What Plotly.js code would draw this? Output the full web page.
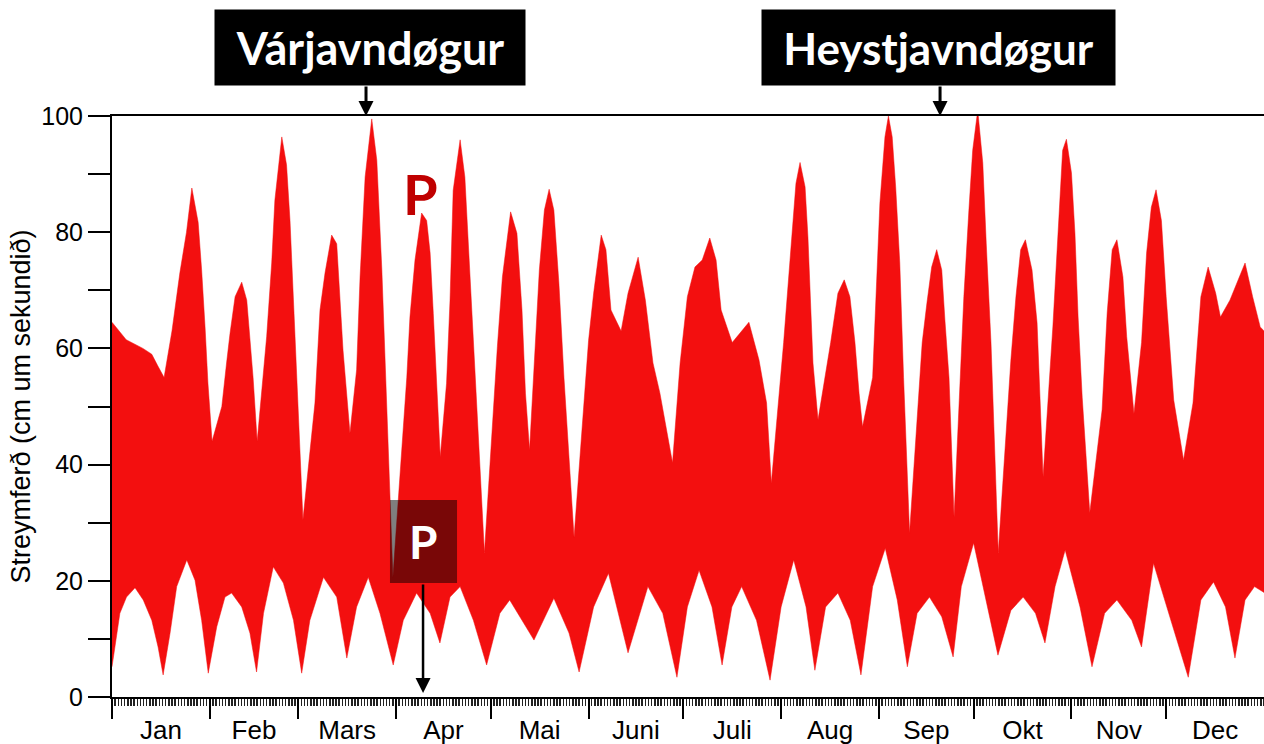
<!DOCTYPE html>
<html>
<head>
<meta charset="utf-8">
<script src="https://cdn.plot.ly/plotly-3.0.1.min.js"></script>
<style>html,body{margin:0;padding:0;background:#fff;}#chart{width:1264px;height:744px;}</style>
</head>
<body>
<div id="chart"></div>
<script>
// Upper envelope of current speed (day of year, cm/s)
const upperDay = [0,4.5,9.8,12.6,14.5,16.5,19,21.5,23.6,25.3,27.3,28.4,29.5,30.4,31.7,
  34.8,36.3,37.4,39,41.1,42.7,43.7,44.7,46,
  47.9,49,50.6,51.6,53.8,55.3,56.4,57.5,58.5,60.5,
  64.3,65.9,67.5,69.6,71.2,72.2,73.2,75.4,
  77.5,78.6,80.2,82.3,83.9,85.5,86.5,89,
  93.4,94.4,96,98.1,99.7,100.8,101.8,104,
  106,107.1,108.1,110.3,111.8,112.9,114.5,118,
  122.1,123.7,126.3,128.3,129.9,131,132.3,
  134.2,135.4,137,138.5,140,141.6,143.2,146.4,
  151,152.6,155,156.5,158.1,161.3,163.5,166.7,169,171.4,173.6,177.6,
  180,182.3,184.7,187,189.4,191.4,193,196.5,201.8,205,207.4,208.9,
  212.8,215.2,216.7,218,219.6,220.5,222.1,223.7,
  227.7,230,232,233.8,235.4,236.7,237.8,
  241,243.3,244.9,246,247.2,248.3,249.6,250.8,252.7,
  256.7,258.2,259.7,261.3,262.9,263.9,265.2,266.8,
  269.9,271.5,272.7,274.3,275.9,277,278.5,280.8,
  284.8,286.4,287.9,289.4,291.5,293.1,295,
  298.1,299.6,301.2,302.4,304,305.1,306.1,307.4,309.8,
  313.7,315.3,316.9,318.4,320.3,321.5,323.8,
  326.2,327.8,329.3,330.8,332.5,334,336.4,339.5,
  342.5,345,347.3,349.7,351.2,354.2,359,361.4,363.8,365];
const upperVal = [64.5,61.5,60,59,57,55,63,73,80,87.6,81.7,73.5,63.5,54,44,
  50,57.5,62.6,68.9,71.4,68.3,62,55,44,
  55,62,74.7,85.5,96.4,91.6,82,68.3,53.4,30.5,
  50.6,66.6,73,79.5,78,69.5,59.7,45.4,
  56.3,72.3,89.5,99.5,92.4,73.5,57.5,20.6,
  55,65.4,75.2,83.3,82,76.4,66,41.3,
  54,68.3,87.2,95.9,89.5,78,61,24.8,
  60.3,72.3,83.5,79.8,66.6,52.3,42.5,
  61,73.5,83.8,87.4,83.8,71.2,55,27.5,
  61.4,69.5,79.5,77,66.6,63,69.5,75.7,68.3,57.5,52.3,40.3,
  57.5,68.9,74,75.2,79,75.2,66.6,61,64.5,58,50.6,36.8,
  61,78,88.4,92,87.8,79.2,57.5,47.7,
  61,69.5,71.8,68.9,61,52.3,46.5,
  55,85,96.4,100,96.4,87.8,74.7,55,28.2,
  61,67.8,74,77,73.5,64.9,55,31,
  68.9,83.8,94.1,101,91.9,78,61,24.8,
  58,68.9,77,78.7,73.5,64.4,37.9,
  63.7,79.2,94.1,96,90.2,79.8,65.4,51.6,31.7,
  49.4,66,77,78.7,72.3,62,48.8,
  61,76.4,84.3,87.3,82,68.9,51.1,40.8,
  50.6,68.9,74,69.5,65.4,68.3,74.7,68.9,63.7,63];

// Lower envelope of current speed (day of year, cm/s)
const lowerDay = [0,2.5,4.6,7.3,9.9,12.6,14.6,16.2,18.4,20.5,23.7,26.3,28.4,30.5,
  33.2,35.8,37.9,41.1,43.7,45.8,48,51.1,54.3,57.5,60.1,
  62.7,67,71.2,74.4,77.5,81.2,84.9,89.1,92.3,96.5,100.8,103.9,
  107.1,110.3,114.5,118.7,122.9,126,133.7,140,144.8,148,
  152.6,157.3,163.5,169.8,174.5,179,182.3,186,190.1,193.3,
  196.4,199.5,204.2,208.5,212,216,219.9,222.7,226.1,230,233.9,237.3,
  241,245,248.8,252,255.1,259,262.9,266.5,269.1,273,277,280.7,
  284.8,288.7,292.6,295.6,298.8,302,306.7,310.5,314.5,318.4,323.1,326.2,
  330,335.5,341,345,349,352.8,355.8,359,362,365];
const lowerVal = [5.2,14.4,17.2,18.8,16.7,13.2,8.6,3.8,11,19,23.6,20.1,13.2,4.1,
  12.1,17.2,17.9,15.5,11,4.3,14.4,22.4,19.6,13.2,4.1,
  13.2,20.6,17.2,6.7,15.5,20.6,14.4,5.5,13.2,17.9,14.4,9.3,
  17.2,19,13.2,5.5,14.4,16.7,9.8,17,11,4.3,
  15.5,21.3,7.6,19,14.4,3.4,15.5,21.8,15.5,5.5,
  15.5,19,13.2,2.9,15.5,23.6,15.5,4.6,15.5,17.9,13.2,3.8,
  19,25.6,16.7,5.2,14.4,17.2,13.8,6.9,19,26.5,16.7,7.2,
  14.9,17.2,14.4,9.3,19,25.3,15.5,5.2,14.4,16.7,13.2,8.6,
  23,13.2,3.4,16.7,19.8,15.5,6.7,16.7,19,18];

const monthStart = [0,31,59,90,120,151,181,212,243,273,304,334];
const monthMid = [15.5,45,74.5,105,135.5,166,196.5,227.5,258,288.5,319,349.5];
const monthNames = ['Jan','Feb','Mars','Apr','Mai','Juni','Juli','Aug','Sep','Okt','Nov','Dec'];

const bandX = upperDay.concat(lowerDay.slice().reverse());
const bandY = upperVal.concat(lowerVal.slice().reverse());

const red = '#f30f0f';
const axFont = {family: 'Liberation Sans, Arial, sans-serif', size: 25, color: '#000'};

const traces = [
  {x: bandX, y: bandY, type: 'scatter', mode: 'lines', fill: 'toself',
   fillcolor: red, line: {color: red, width: 0.5}, hoverinfo: 'skip', showlegend: false},
  {x: monthMid, y: monthMid.map(() => 0), xaxis: 'x2', yaxis: 'y', type: 'scatter',
   mode: 'markers', marker: {opacity: 0}, hoverinfo: 'skip', showlegend: false}
];

const layout = {
  width: 1264, height: 744,
  margin: {l: 112, r: 0, t: 116, b: 47},
  paper_bgcolor: '#fff', plot_bgcolor: '#fff',
  showlegend: false,
  xaxis: {
    range: [0, 365], tickmode: 'array', tickvals: monthStart, ticktext: monthStart.map(() => ''),
    ticks: 'outside', ticklen: 20, tickwidth: 2, tickcolor: '#000',
    showline: true, linewidth: 2, linecolor: '#000', mirror: true,
    showgrid: false, zeroline: false,
    minor: {tickmode: 'linear', tick0: 0, dtick: 1, ticks: 'outside', ticklen: 7,
            tickwidth: 1.5, tickcolor: '#222', showgrid: false}
  },
  xaxis2: {
    overlaying: 'x', anchor: 'y', side: 'bottom', range: [0, 365],
    tickmode: 'array', tickvals: monthMid, ticktext: monthNames,
    ticks: 'outside', ticklen: 10, tickcolor: 'rgba(0,0,0,0)',
    showline: false, showgrid: false, zeroline: false,
    tickfont: {family: 'Liberation Sans, Arial, sans-serif', size: 26, color: '#000'}
  },
  yaxis: {
    range: [0, 100], tick0: 0, dtick: 20,
    ticks: 'outside', ticklen: 22, tickwidth: 2, tickcolor: '#000',
    showline: true, linewidth: 2, linecolor: '#000',
    showgrid: false, zeroline: false, tickfont: axFont,
    minor: {tick0: 0, dtick: 10, ticks: 'outside', ticklen: 22, tickwidth: 2, tickcolor: '#000', showgrid: false},
    title: {text: 'Streymferð (cm um sekundið)', standoff: 3,
            font: {family: 'Liberation Sans, Arial, sans-serif', size: 27, color: '#000'}}
  },
  shapes: [
    {type: 'rect', xref: 'paper', yref: 'paper', x0: 0.2413, x1: 0.2995, y0: 0.1962, y1: 0.3391,
     fillcolor: 'rgba(0,0,0,0.5)', line: {width: 0}, layer: 'above'}
  ],
  annotations: [
    {text: 'Várjavndøgur', xref: 'paper', yref: 'paper', x: 0.224, y: 1.1179,
     xanchor: 'center', yanchor: 'middle', width: 310, height: 75, bgcolor: '#000', borderpad: 0,
     showarrow: false, font: {family: 'Lato, Open Sans, sans-serif', size: 45, color: '#fff', weight: 'bold'}},
    {text: 'Heystjavndøgur', xref: 'paper', yref: 'paper', x: 0.7174, y: 1.1179,
     xanchor: 'center', yanchor: 'middle', width: 353, height: 75, bgcolor: '#000', borderpad: 0,
     showarrow: false, font: {family: 'Lato, Open Sans, sans-serif', size: 44, color: '#fff', weight: 'bold'}},
    {text: '', xref: 'paper', yref: 'paper', x: 0.2205, y: 1.0, ax: 0, ay: -31,
     showarrow: true, arrowhead: 2, arrowsize: 1, arrowwidth: 3, arrowcolor: '#000', standoff: 0},
    {text: '', xref: 'paper', yref: 'paper', x: 0.7188, y: 1.0, ax: 0, ay: -31,
     showarrow: true, arrowhead: 2, arrowsize: 1, arrowwidth: 3, arrowcolor: '#000', standoff: 0},
    {text: 'P', xref: 'paper', yref: 'paper', x: 0.2674, y: 0.8666, xanchor: 'center', yanchor: 'middle',
     showarrow: false, font: {family: 'Lato, Open Sans, sans-serif', size: 56, color: '#c00000', weight: 'bold'}},
    {text: 'P', xref: 'paper', yref: 'paper', x: 0.27, y: 0.2676, xanchor: 'center', yanchor: 'middle',
     showarrow: false, font: {family: 'Lato, Open Sans, sans-serif', size: 46, color: '#fff', weight: 'bold'}},
    {text: '', xref: 'paper', yref: 'paper', x: 0.27, y: 0.0069, ax: 0, ay: -110,
     showarrow: true, arrowhead: 2, arrowsize: 1.2, arrowwidth: 2.5, arrowcolor: '#000', standoff: 0}
  ]
};

Plotly.newPlot('chart', traces, layout, {displayModeBar: false, staticPlot: true});
</script>
</body>
</html>
